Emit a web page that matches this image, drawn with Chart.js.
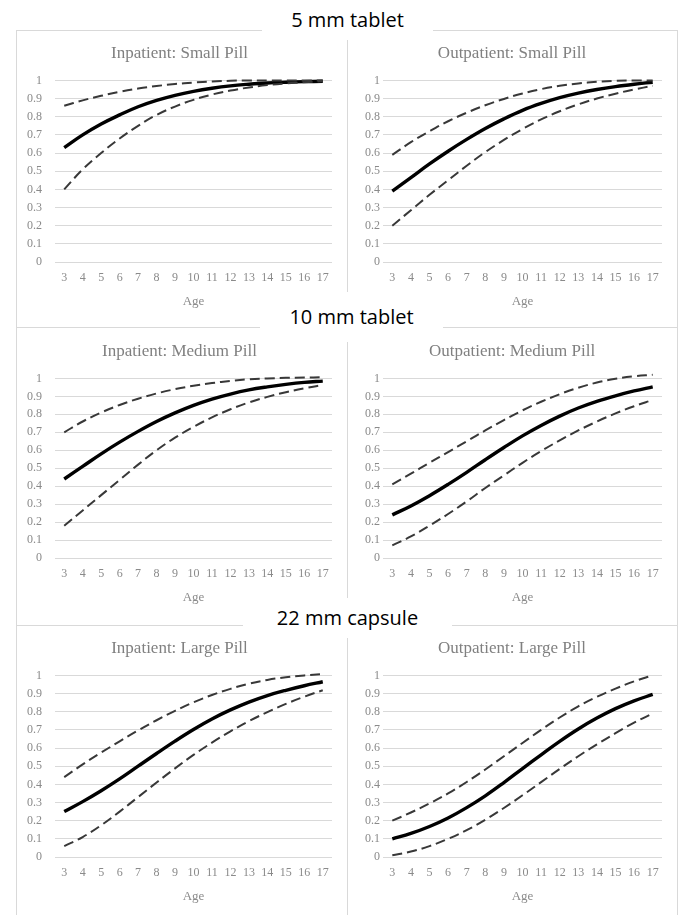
<!DOCTYPE html>
<html>
<head>
<meta charset="utf-8">
<script src="https://cdn.jsdelivr.net/npm/chart.js@4.4.0/dist/chart.umd.min.js"></script>
<style>
body{margin:0;background:#fff;}
#wrap{position:relative;width:681px;height:915px;overflow:hidden;background:#fff;}
.ln{position:absolute;background:#d9d9d9;}
.head{position:absolute;background:#fff;font-family:"Open Sans","Noto Sans",sans-serif;font-size:20px;color:#000;text-align:center;}
canvas{position:absolute;}
</style>
</head>
<body>
<div id="wrap">
  <!-- frame lines -->
  <div class="ln" style="left:16px;top:30px;width:662px;height:1px"></div>
  <div class="ln" style="left:16px;top:327px;width:662px;height:1px"></div>
  <div class="ln" style="left:16px;top:625px;width:662px;height:1px"></div>
  <div class="ln" style="left:16px;top:30px;width:1px;height:885px"></div>
  <div class="ln" style="left:347px;top:30px;width:1px;height:885px"></div>
  <div class="ln" style="left:677px;top:30px;width:1px;height:885px"></div>

  <!-- section headings -->
  <div class="head" style="left:262px;width:171px;top:-1px;height:41px;line-height:41px">5 mm tablet</div>
  <div class="head" style="left:260px;width:183px;top:292px;height:50px;line-height:50px">10 mm tablet</div>
  <div class="head" style="left:243px;width:209px;top:598px;height:40px;line-height:40px">22 mm capsule</div>

  <canvas id="c1"></canvas>
  <canvas id="c2"></canvas>
  <canvas id="c3"></canvas>
  <canvas id="c4"></canvas>
  <canvas id="c5"></canvas>
  <canvas id="c6"></canvas>
</div>

<script>
// Veriler
const ages = ["3","4","5","6","7","8","9","10","11","12","13","14","15","16","17"];

const inpSmallMid = [0.63,0.70,0.76,0.81,0.855,0.89,0.918,0.94,0.957,0.97,0.979,0.986,0.99,0.993,0.995];
const inpSmallHi  = [0.86,0.89,0.915,0.937,0.955,0.969,0.98,0.988,0.994,0.998,1.0,1.0,1.0,1.0,1.0];
const inpSmallLo  = [0.40,0.51,0.60,0.68,0.75,0.81,0.856,0.893,0.922,0.944,0.961,0.974,0.983,0.99,0.995];

const outSmallMid = [0.39,0.465,0.54,0.61,0.675,0.735,0.788,0.835,0.873,0.905,0.93,0.95,0.966,0.979,0.99];
const outSmallHi  = [0.59,0.66,0.72,0.775,0.822,0.863,0.898,0.928,0.952,0.97,0.983,0.992,0.998,1.0,1.0];
const outSmallLo  = [0.20,0.285,0.37,0.45,0.53,0.605,0.672,0.732,0.785,0.83,0.868,0.90,0.927,0.95,0.97];

const inpMedMid = [0.44,0.51,0.58,0.645,0.705,0.76,0.808,0.85,0.885,0.913,0.936,0.953,0.967,0.978,0.985];
const inpMedHi  = [0.70,0.76,0.81,0.852,0.887,0.916,0.94,0.959,0.974,0.986,0.995,1.0,1.003,1.005,1.006];
const inpMedLo  = [0.18,0.265,0.35,0.435,0.52,0.60,0.67,0.73,0.783,0.828,0.866,0.897,0.923,0.945,0.963];

const outMedMid = [0.24,0.29,0.347,0.41,0.477,0.547,0.615,0.68,0.738,0.79,0.835,0.872,0.903,0.93,0.953];
const outMedHi  = [0.41,0.47,0.53,0.59,0.65,0.71,0.768,0.822,0.87,0.912,0.948,0.977,0.998,1.012,1.02];
const outMedLo  = [0.07,0.12,0.18,0.245,0.315,0.39,0.46,0.53,0.595,0.655,0.71,0.76,0.805,0.845,0.88];

const inpLargeMid = [0.25,0.305,0.365,0.43,0.50,0.57,0.638,0.702,0.76,0.81,0.853,0.889,0.918,0.943,0.965];
const inpLargeHi  = [0.44,0.51,0.575,0.637,0.697,0.753,0.805,0.852,0.892,0.926,0.954,0.975,0.99,1.0,1.007];
const inpLargeLo  = [0.06,0.11,0.175,0.25,0.33,0.41,0.488,0.562,0.63,0.692,0.748,0.798,0.843,0.883,0.918];

const outLargeMid = [0.10,0.13,0.168,0.215,0.272,0.337,0.41,0.487,0.563,0.637,0.705,0.765,0.817,0.86,0.895];
const outLargeHi  = [0.20,0.245,0.295,0.35,0.413,0.482,0.555,0.628,0.70,0.768,0.83,0.882,0.927,0.967,1.0];
const outLargeLo  = [0.01,0.03,0.06,0.10,0.148,0.205,0.27,0.34,0.412,0.485,0.555,0.62,0.682,0.74,0.79];

// Yerleşim
const cols = [{left:13,width:333,yW:28,yPad:13},{left:348,width:328,yW:21,yPad:3}];
const rows = [{top:31,height:281},{top:329,height:279},{top:626,height:281}];
const serif = "'Liberation Serif','Times New Roman',serif";

function dashed(d){
  return {data:d,borderColor:"#383838",borderWidth:2,borderDash:[10,5],pointRadius:0,tension:0.4,clip:false};
}

function panel(id,col,row,title,mid,lo,hi){
  const c=document.getElementById(id), cg=cols[col], rg=rows[row];
  c.width=cg.width; c.height=rg.height;
  c.style.left=cg.left+"px"; c.style.top=rg.top+"px";
  new Chart(c,{
    type:"line",
    data:{labels:ages,datasets:[
      dashed(hi), dashed(lo),
      {data:mid,borderColor:"#000",borderWidth:3.4,pointRadius:0,tension:0.4,clip:false}
    ]},
    options:{
      responsive:false,animation:false,devicePixelRatio:1,
      layout:{padding:{left:14,right:14,top:0,bottom:0}},
      plugins:{
        legend:{display:false},tooltip:{enabled:false},
        title:{display:true,text:title,color:"#808080",font:{family:serif,size:17,weight:"normal"},padding:{top:12,bottom:17}}
      },
      scales:{
        x:{offset:true,grid:{display:false,drawTicks:false},border:{display:false},
           ticks:{color:"#8a8a8a",font:{family:serif,size:12},padding:9,maxRotation:0,autoSkip:false},
           title:{display:true,text:"Age",color:"#8a8a8a",font:{family:serif,size:13},padding:{top:0,bottom:3}},
           afterFit(s){ s.height=50; }},
        y:{min:0,max:1,grid:{color:"#d9d9d9",drawTicks:false},border:{display:false},
           ticks:{stepSize:0.1,color:"#8a8a8a",font:{family:serif,size:12},padding:cg.yPad,callback:v=>String(+v.toFixed(1))},
           afterFit(s){ s.width=cg.yW; }}
      }
    }
  });
}

panel("c1",0,0,"Inpatient: Small Pill",inpSmallMid,inpSmallLo,inpSmallHi);
panel("c2",1,0,"Outpatient: Small Pill",outSmallMid,outSmallLo,outSmallHi);
panel("c3",0,1,"Inpatient: Medium Pill",inpMedMid,inpMedLo,inpMedHi);
panel("c4",1,1,"Outpatient: Medium Pill",outMedMid,outMedLo,outMedHi);
panel("c5",0,2,"Inpatient: Large Pill",inpLargeMid,inpLargeLo,inpLargeHi);
panel("c6",1,2,"Outpatient: Large Pill",outLargeMid,outLargeLo,outLargeHi);
</script>
</body>
</html>
